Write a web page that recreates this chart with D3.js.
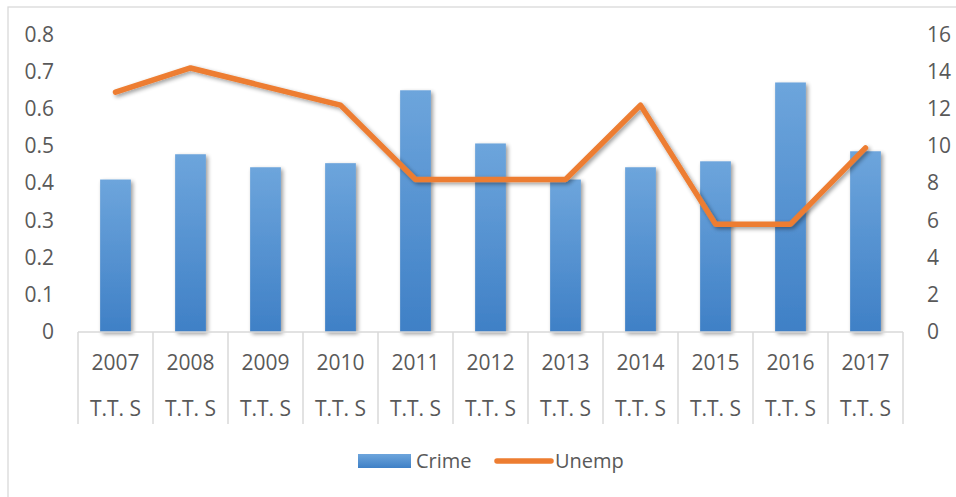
<!DOCTYPE html>
<html>
<head>
<meta charset="utf-8">
<script src="https://cdn.jsdelivr.net/npm/d3@7"></script>
<style>
  html, body { margin: 0; padding: 0; background: #fff; }
  svg { display: block; }
  text { font-family: "Open Sans", "Noto Sans", sans-serif; fill: #595959; }
</style>
</head>
<body>
<svg id="chart" width="956" height="497"></svg>
<script>
// Yearly crime index (left axis) and unemployment rate (right axis)
const years = ["2007", "2008", "2009", "2010", "2011", "2012", "2013", "2014", "2015", "2016", "2017"];
const groupLabels = ["T.T. S", "T.T. S", "T.T. S", "T.T. S", "T.T. S", "T.T. S", "T.T. S", "T.T. S", "T.T. S", "T.T. S", "T.T. S"];
const crime = [0.41, 0.478, 0.443, 0.454, 0.65, 0.507, 0.41, 0.443, 0.459, 0.671, 0.486];
const unemp = [12.9, 14.2, 13.2, 12.2, 8.2, 8.2, 8.2, 12.2, 5.8, 5.8, 9.9];
const leftTicks = [0, 0.1, 0.2, 0.3, 0.4, 0.5, 0.6, 0.7, 0.8];
const rightTicks = [0, 2, 4, 6, 8, 10, 12, 14, 16];
const seriesNames = ["Crime", "Unemp"];

const svg = d3.select("#chart");
const plot = { left: 78, right: 903, top: 34.5, bottom: 332 };
const fontSize = 21;

// chart frame
svg.append("rect")
  .attr("x", 8).attr("y", 7).attr("width", 960).attr("height", 500)
  .attr("fill", "#fff").attr("stroke", "#d9d9d9").attr("stroke-width", 1.3);

const defs = svg.append("defs");
const grad = defs.append("linearGradient")
  .attr("id", "barFill").attr("x1", 0).attr("y1", 0).attr("x2", 0).attr("y2", 1);
grad.append("stop").attr("offset", "0%").attr("stop-color", "#6DA5DC");
grad.append("stop").attr("offset", "100%").attr("stop-color", "#3F80C6");

const shadow = defs.append("filter").attr("id", "shadow")
  .attr("x", "-20%").attr("y", "-20%").attr("width", "160%").attr("height", "160%");
shadow.append("feGaussianBlur").attr("in", "SourceAlpha").attr("stdDeviation", 2).attr("result", "b");
shadow.append("feOffset").attr("in", "b").attr("dx", 2).attr("dy", 2).attr("result", "o");
shadow.append("feComponentTransfer").attr("in", "o").attr("result", "s")
  .append("feFuncA").attr("type", "linear").attr("slope", 0.4);
const merge = shadow.append("feMerge");
merge.append("feMergeNode").attr("in", "s");
merge.append("feMergeNode").attr("in", "SourceGraphic");

const x = d3.scaleBand().domain(years)
  .range([plot.left, plot.right])
  .paddingInner(0.59).paddingOuter(0.295);
const yL = d3.scaleLinear().domain([0, 0.8]).range([plot.bottom, plot.top]);
const yR = d3.scaleLinear().domain([0, 16]).range([plot.bottom, plot.top]);

// bars
svg.append("g").selectAll("rect")
  .data(crime)
  .join("rect")
  .attr("x", (d, i) => x(years[i]))
  .attr("y", d => yL(d))
  .attr("width", x.bandwidth())
  .attr("height", d => yL(0) - yL(d))
  .attr("fill", "url(#barFill)")
  .attr("filter", "url(#shadow)");

// category axis with boxed two-level labels
const step = x.step();
const catAxis = svg.append("g");
catAxis.append("line")
  .attr("x1", plot.left).attr("x2", plot.right)
  .attr("y1", plot.bottom).attr("y2", plot.bottom)
  .attr("stroke", "#d9d9d9").attr("stroke-width", 1.5);
catAxis.selectAll("line.sep")
  .data(d3.range(years.length + 1))
  .join("line").attr("class", "sep")
  .attr("x1", i => plot.left + i * step).attr("x2", i => plot.left + i * step)
  .attr("y1", plot.bottom).attr("y2", 424)
  .attr("stroke", "#d9d9d9").attr("stroke-width", 1.5);
catAxis.selectAll("text.year")
  .data(years)
  .join("text").attr("class", "year")
  .attr("x", d => x(d) + x.bandwidth() / 2)
  .attr("y", 363)
  .attr("dy", "0.35em")
  .attr("text-anchor", "middle")
  .attr("font-size", fontSize)
  .text(d => d);
catAxis.selectAll("text.group")
  .data(groupLabels)
  .join("text").attr("class", "group")
  .attr("x", (d, i) => x(years[i]) + x.bandwidth() / 2)
  .attr("y", 409)
  .attr("dy", "0.35em")
  .attr("text-anchor", "middle")
  .attr("font-size", fontSize)
  .text(d => d);

// value axes
const leftAxis = svg.append("g")
  .attr("transform", `translate(${plot.left},0)`)
  .call(d3.axisLeft(yL).tickValues(leftTicks).tickSize(0).tickPadding(24)
    .tickFormat(d => d === 0 ? "0" : d3.format(".1f")(d)));
const rightAxis = svg.append("g")
  .attr("transform", `translate(${plot.right},0)`)
  .call(d3.axisRight(yR).tickValues(rightTicks).tickSize(0).tickPadding(24));
[leftAxis, rightAxis].forEach(g => {
  g.select(".domain").remove();
  g.selectAll("text").attr("font-size", fontSize).attr("fill", "#595959")
    .style("font-family", "'Open Sans', 'Noto Sans', sans-serif");
});

// unemployment line
const line = d3.line()
  .x((d, i) => x(years[i]) + x.bandwidth() / 2)
  .y(d => yR(d));
svg.append("path")
  .datum(unemp)
  .attr("d", line)
  .attr("fill", "none")
  .attr("stroke", "#ED7D31")
  .attr("stroke-width", 5.5)
  .attr("stroke-linecap", "round")
  .attr("stroke-linejoin", "round")
  .attr("filter", "url(#shadow)");

// legend
const legend = svg.append("g");
legend.append("rect")
  .attr("x", 358).attr("y", 454).attr("width", 53).attr("height", 14)
  .attr("fill", "url(#barFill)");
legend.append("text")
  .attr("x", 416).attr("y", 461).attr("dy", "0.35em")
  .attr("font-size", 20).text(seriesNames[0]);
legend.append("line")
  .attr("x1", 497).attr("x2", 551).attr("y1", 461).attr("y2", 461)
  .attr("stroke", "#ED7D31").attr("stroke-width", 5.5).attr("stroke-linecap", "round");
legend.append("text")
  .attr("x", 555).attr("y", 461).attr("dy", "0.35em")
  .attr("font-size", 20).text(seriesNames[1]);
</script>
</body>
</html>
